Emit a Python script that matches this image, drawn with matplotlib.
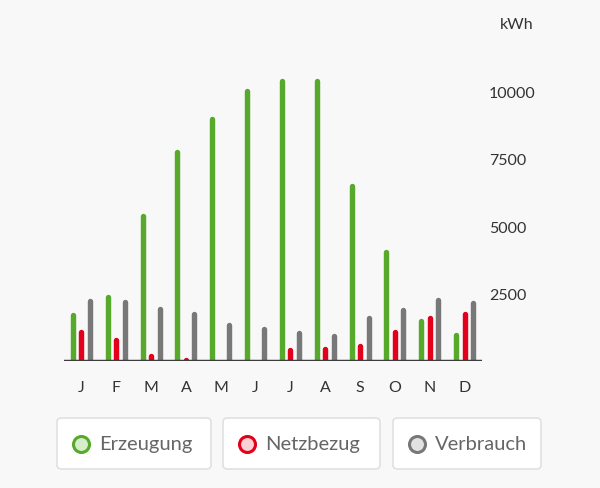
import matplotlib
matplotlib.use("Agg")
import matplotlib.pyplot as plt
from matplotlib.patches import FancyBboxPatch
from matplotlib.lines import Line2D
import numpy as np

plt.rcParams['font.family'] = ['Lato', 'DejaVu Sans']

months = ["J", "F", "M", "A", "M", "J", "J", "A", "S", "O", "N", "D"]
series_names = ["Erzeugung", "Netzbezug", "Verbrauch"]
erzeugung = [1720, 2360, 5360, 7740, 8970, 10030, 10370, 10370, 6480, 4030, 1500, 980]
netzbezug = [1060, 780, 180, 20, 10, 5, 390, 430, 540, 1060, 1600, 1730]
verbrauch = [2230, 2190, 1930, 1740, 1320, 1180, 1040, 910, 1610, 1900, 2260, 2150]
yticks = [2500, 5000, 7500, 10000]

colors = ["#56a92b", "#e2001a", "#787878"]
fills = ["#d6edc9", "#f9d0d3", "#e2e2e2"]
bg = "#f8f8f8"

fig = plt.figure(figsize=(6.0, 4.89), dpi=100, facecolor=bg)
ax = fig.add_axes([64/600, 1-362/489, (482-64)/600, (362-65.4)/489])
ax.set_facecolor(bg)

x = np.arange(len(months))
offsets = [-0.245, 0.0, 0.245]
for data, off, c in zip([erzeugung, netzbezug, verbrauch], offsets, colors):
    ax.vlines(x + off, 0, data, colors=c, linewidth=3.9, capstyle='round', zorder=2)

ax.axhline(0, color="#3e3e3e", linewidth=2.5, zorder=3)
ax.set_xlim(-0.5, 11.5)
ax.set_ylim(0, 11000)

for s in ax.spines.values():
    s.set_visible(False)
ax.yaxis.tick_right()
ax.set_yticks(yticks)
ax.set_yticklabels([str(v) for v in yticks])
ax.tick_params(axis='y', length=0, pad=5, labelsize=11.5, labelcolor="#333333")
ax.set_xticks(x)
ax.set_xticklabels(months)
ax.tick_params(axis='x', length=0, pad=14, labelsize=11.5, labelcolor="#333333")

fig.text(500/600, 1-25/489, "kWh", ha='left', va='center', fontsize=11.5, color="#333333")

# legend boxes
boxes = [(57, 211), (223, 380), (393, 541)]
y0, y1 = 419, 470
for (bx0, bx1), name, c, fc in zip(boxes, series_names, colors, fills):
    p = FancyBboxPatch((bx0/600, 1-y1/489), (bx1-bx0)/600, (y1-y0)/489,
                       boxstyle="round,pad=0,rounding_size=0.008",
                       transform=fig.transFigure, facecolor="white",
                       edgecolor="#e0e0e0", linewidth=1.2)
    fig.add_artist(p)
    cx = (bx0 + 23.5)/600
    cy = 1-445/489
    fig.add_artist(Line2D([cx], [cy], marker='o', markersize=11.5, markerfacecolor=fc,
                          markeredgecolor=c, markeredgewidth=2.2, linestyle='none',
                          transform=fig.transFigure))
    fig.text((bx0 + 42)/600, cy, name, ha='left', va='center', fontsize=14.5, color="#666666")

fig.savefig("out.png", dpi=100, facecolor=bg)
